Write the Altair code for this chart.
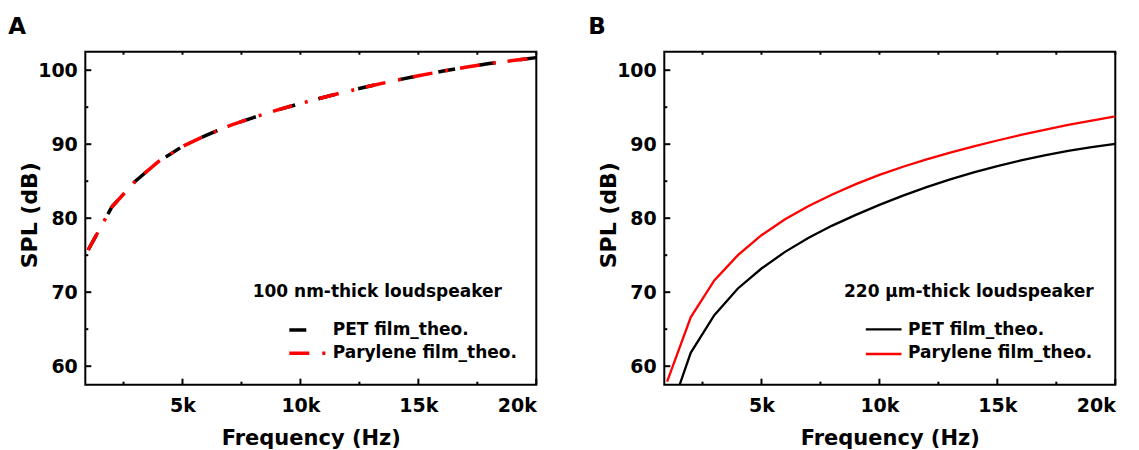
import altair as alt
import pandas as pd

FONT = "DejaVu Sans"

# ---- data ----
freq = [1000, 2000, 3000, 4000, 5000, 6000, 7000, 8000, 9000, 10000,
        11000, 12000, 13000, 14000, 15000, 16000, 17000, 18000, 19000, 20000]

a_pet = [75.7, 81.5, 85.0, 87.7, 89.7, 91.2, 92.5, 93.6, 94.6, 95.5,
         96.35, 97.15, 97.9, 98.6, 99.25, 99.85, 100.4, 100.9, 101.3, 101.7]
a_pary = [75.7, 81.5, 85.0, 87.7, 89.7, 91.2, 92.5, 93.6, 94.6, 95.5,
          96.35, 97.15, 97.9, 98.6, 99.25, 99.85, 100.4, 100.9, 101.3, 101.7]

b_pet = [52.6, 61.8, 66.9, 70.5, 73.2, 75.45, 77.35, 79.0, 80.45, 81.8,
         83.05, 84.2, 85.25, 86.2, 87.05, 87.8, 88.5, 89.1, 89.6, 90.05]
b_pary = [57.9, 66.6, 71.6, 75.0, 77.7, 79.85, 81.65, 83.2, 84.6, 85.85,
          86.95, 87.95, 88.85, 89.7, 90.5, 91.25, 91.95, 92.6, 93.2, 93.75]

series = ["PET", "Parylene"]
legend_labels = ["PET film_theo.", "Parylene film_theo."]
x_major = [5000, 10000, 15000, 20000]
x_minor = [2500, 7500, 12500, 17500]
y_major = [60, 70, 80, 90, 100]
y_minor = [65, 75, 85, 95]
x_domain = [880, 20000]
y_domain = [57.5, 102.5]

W, H = 451, 333

XS = alt.Scale(domain=x_domain, nice=False, zero=False)
YS = alt.Scale(domain=y_domain, nice=False, zero=False)

XAX = alt.Axis(values=x_major, labelExpr="datum.value/1000 + 'k'",
               title="Frequency (Hz)", titleX=W / 2, titleY=43, labelPadding=11.5)
YAX = alt.Axis(values=y_major, title="SPL (dB)", titleX=-44, titleY=163,
               titleFontSize=22, labelPadding=8)


def text_mark(txt, x, y, size, align="left"):
    return alt.Chart(pd.DataFrame({"t": [txt]})).mark_text(
        align=align, baseline="alphabetic", font=FONT, fontWeight="bold",
        fontSize=size, color="black"
    ).encode(x=alt.value(x), y=alt.value(y), text="t:N")


def sym(x1, x2, y, color, dash, width):
    m = dict(color=color, strokeWidth=width, strokeCap="butt")
    if dash:
        m["strokeDash"] = dash
    return alt.Chart(pd.DataFrame({"k": [0]})).mark_rule(**m).encode(
        x=alt.value(x1), x2=alt.value(x2), y=alt.value(y))


def xticks(vals, y1, y2):
    return alt.Chart(pd.DataFrame({"v": vals})).mark_rule(
        color="black", strokeWidth=2
    ).encode(x=alt.X("v:Q", scale=XS, axis=XAX), y=alt.value(y1), y2=alt.value(y2))


def yticks(vals, length):
    return alt.Chart(pd.DataFrame({"v": vals})).mark_rule(
        color="black", strokeWidth=2
    ).encode(y=alt.Y("v:Q", scale=YS, axis=YAX), x=alt.value(0), x2=alt.value(length))


def series_line(name, vals, color, dash, sw):
    df = pd.DataFrame({"f": freq, "spl": vals, "s": [name] * len(freq)})
    m = dict(clip=True, strokeWidth=sw, strokeCap="butt", color=color)
    if dash:
        m["strokeDash"] = dash
    return alt.Chart(df).mark_line(**m).encode(
        x=alt.X("f:Q", scale=XS, axis=XAX),
        y=alt.Y("spl:Q", scale=YS, axis=YAX),
        detail="s:N",
    )


def panel(letter, pet, pary, dashes, sw, title_txt, lg):
    layers = [
        series_line(series[0], pet, "black", dashes[0], sw),
        series_line(series[1], pary, "red", dashes[1], sw),
        xticks(x_major, H, H - 6),
        xticks(x_minor, H, H - 3),
        xticks(x_major + x_minor, 0, 3),
        yticks(y_major, 6),
        yticks(y_minor, 3),
        text_mark(letter, lg["lx"], -18, 23),
        text_mark(title_txt, lg["tx"], 245, 17),
        sym(lg["s1"], lg["s2"], lg["y1"], "black", dashes[0], sw),
        sym(lg["s1"], lg["s2"], lg["y2"], "red", dashes[1], sw),
        text_mark(legend_labels[0], lg["ex"], lg["b1"], 17),
        text_mark(legend_labels[1], lg["ex"], lg["b2"], 17),
    ]
    return alt.layer(*layers).properties(width=W, height=H)


pA = panel("A", a_pet, a_pary, [[17, 24], [20, 13, 3, 12]], 3.5,
           "100 nm-thick loudspeaker",
           dict(lx=-77, tx=167.4, s1=204, s2=240, y1=278.3, y2=301.6,
                ex=247.4, b1=283.3, b2=306.6))
pB = panel("B", b_pet, b_pary, [None, None], 2.3,
           "220 \u03bcm-thick loudspeaker",
           dict(lx=-76.1, tx=179.7, s1=201.5, s2=237.2, y1=277.6, y2=302.3,
                ex=243.8, b1=283.3, b2=306.8))

chart = alt.hconcat(pA, pB, spacing=128, bounds="flush").properties(
    padding={"left": 7.3, "top": 14.7, "right": 0, "bottom": 0},
    background="white",
).configure_axis(
    labelFont=FONT, labelFontWeight="bold", labelFontSize=19, labelColor="black",
    titleFont=FONT, titleFontWeight="bold", titleFontSize=21, titleColor="black",
    ticks=False, tickSize=0, domain=False, grid=False,
).configure_view(stroke="black", strokeWidth=2)

chart.save("out.html", embed_options={"renderer": "svg", "actions": False})
